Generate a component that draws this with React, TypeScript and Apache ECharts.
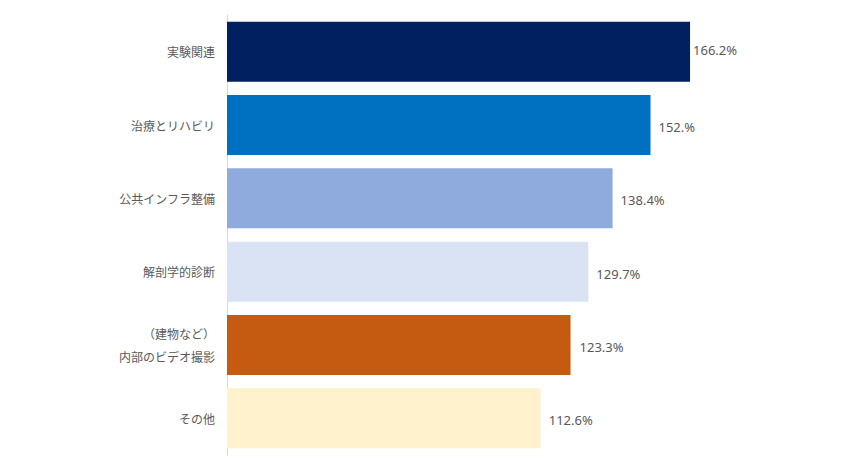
import React, { useEffect, useRef } from "react";
import * as echarts from "echarts";

const categories = ["実験関連", "治療とリハビリ", "公共インフラ整備", "解剖学的診断", "（建物など）\n内部のビデオ撮影", "その他"];
const values = [166.2, 152, 138.4, 129.7, 123.3, 112.6];
const valueLabels = ["166.2%", "152.%", "138.4%", "129.7%", "123.3%", "112.6%"];
const colors = ["#002060", "#0070C0", "#8FAADC", "#DAE3F3", "#C55A11", "#FFF2CC"];
const labelDistances = [3, 8, 8, 8, 9, 8];
const labelOffsetsY = [-2, 2, 2, 2, 2, 2];

export default function App() {
  const ref = useRef<HTMLDivElement>(null);
  useEffect(() => {
    if (!ref.current) return;
    const chart = echarts.init(ref.current, null, { renderer: "svg" });
    chart.setOption({
      animation: false,
      grid: { left: 227, top: 15, height: 440, width: 501.5, containLabel: false },
      xAxis: { type: "value", min: 0, max: 180, show: false },
      yAxis: {
        type: "category",
        inverse: true,
        data: categories,
        axisLine: { show: true, lineStyle: { color: "#d9d9d9", width: 1 } },
        axisTick: { show: false },
        axisLabel: {
          color: "#595959",
          fontSize: 12,
          margin: 12,
          lineHeight: 23,
          fontFamily: "'Noto Sans CJK JP', sans-serif",
        },
      },
      series: [
        {
          type: "bar",
          barWidth: 60,
          data: values.map((v, i) => ({
            value: v,
            itemStyle: { color: colors[i] },
            label: { distance: labelDistances[i], offset: [0, labelOffsetsY[i]] },
          })),
          label: {
            show: true,
            position: "right",
            color: "#595959",
            fontSize: 13,
            fontFamily: "'Noto Sans', sans-serif",
            formatter: (p: any) => valueLabels[p.dataIndex],
          },
        },
      ],
    });
    return () => chart.dispose();
  }, []);
  return <div ref={ref} style={{ width: 850, height: 470, margin: -8 }} />;
}
